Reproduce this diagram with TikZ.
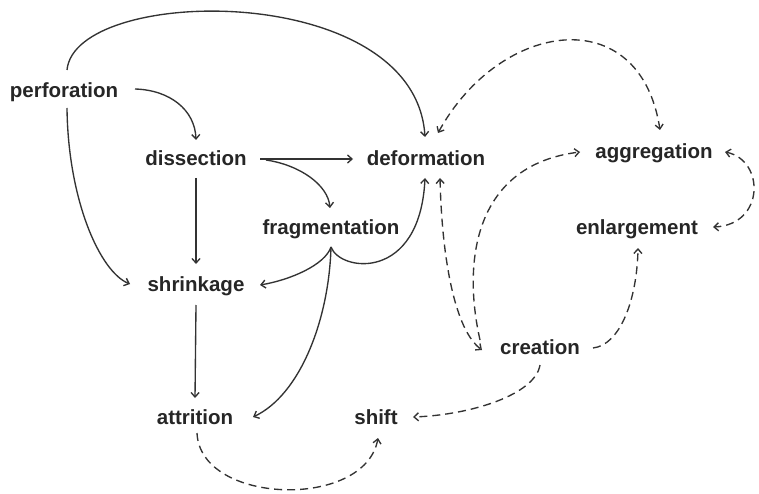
\documentclass[tikz,border=0pt]{standalone}
\usepackage{fontspec}
\setmainfont{Liberation Sans}
\usetikzlibrary{arrows.meta}
\begin{document}
\begin{tikzpicture}[x=1pt,y=-1pt,
  lbl/.style={font=\fontsize{20.5}{24}\selectfont\bfseries, inner sep=0pt, anchor=mid, text=black!85},
  tip/.style={Straight Barb[length=4.5pt,width=8pt]},
  link/.style={line width=1.35pt, draw=black!80, -{Straight Barb[length=4.5pt,width=8pt]}},
  dlink/.style={link, dash pattern=on 8pt off 5pt},
  dboth/.style={dlink, {Straight Barb[length=4.5pt,width=8pt]}-{Straight Barb[length=4.5pt,width=8pt]}},
]
\useasboundingbox[fill=white] (0,0) rectangle (759,494);
\node[lbl] (perf) at (64,95) {perforation};
\node[lbl] (diss) at (196,163) {dissection};
\node[lbl] (def) at (426,163) {deformation};
\node[lbl] (agg) at (654,156) {aggregation};
\node[lbl] (enl) at (637,232) {enlargement};
\node[lbl] (frag) at (331,232) {fragmentation};
\node[lbl] (shr) at (196,289) {shrinkage};
\node[lbl] (att) at (195,422) {attrition};
\node[lbl] (shf) at (376,422) {shift};
\node[lbl] (cre) at (540,352) {creation};

% solid
\draw[link] ([shift={(3,-25)}]perf.mid) .. controls (75,-15) and (415,-20) .. ([shift={(-1,-26)}]def.mid);
\draw[link] ([shift={(71,-6)}]perf.mid) .. controls (170,90) and (195,110) .. ([shift={(0,-23)}]diss.mid);
\draw[link] ([shift={(3,13)}]perf.mid) .. controls (68,200) and (100,272) .. ([shift={(-66,-5)}]shr.mid);
\draw[link] ([shift={(64,-4)}]diss.mid) -- ([shift={(-73,-4)}]def.mid);
\draw[link] ([shift={(70,-3)}]diss.mid) .. controls (300,165) and (328,185) .. ([shift={(-1,-24)}]frag.mid);
\draw[link] ([shift={(0,15)}]diss.mid) -- ([shift={(0,-25)}]shr.mid);
\draw[link] ([shift={(0,15)}]frag.mid) .. controls (325,265) and (290,280) .. ([shift={(64,-4)}]shr.mid);
\draw[link] ([shift={(0,15)}]frag.mid) .. controls (340,272) and (420,282) .. ([shift={(-1,15)}]def.mid);
\draw[link] ([shift={(0,15)}]frag.mid) .. controls (329,320) and (300,395) .. ([shift={(58,-5)}]att.mid);
\draw[link] ([shift={(0,16)}]shr.mid) -- ([shift={(0,-24)}]att.mid);

% dashed
\draw[dboth] ([shift={(12,-30)}]def.mid) .. controls (500,20) and (640,0) .. ([shift={(6,-26)}]agg.mid);
\draw[dboth] ([shift={(14,15)}]def.mid) .. controls (442,260) and (455,330) .. ([shift={(-58,-2)}]cre.mid);
\draw[dlink] ([shift={(-60,-12)}]cre.mid) .. controls (462,260) and (475,165) .. ([shift={(-74,-4)}]agg.mid);
\draw[dlink] ([shift={(53,-4)}]cre.mid) .. controls (620,345) and (637,300) .. ([shift={(1,16)}]enl.mid);
\draw[dlink] ([shift={(0,13)}]cre.mid) .. controls (535,395) and (470,415) .. ([shift={(37,-5)}]shf.mid);
\draw[dlink] ([shift={(2,11)}]att.mid) .. controls (200,505) and (365,510) .. ([shift={(2,16)}]shf.mid);
\draw[dboth] ([shift={(71,-4)}]agg.mid) .. controls (765,160) and (765,225) .. ([shift={(76,-5)}]enl.mid);
\end{tikzpicture}
\end{document}
